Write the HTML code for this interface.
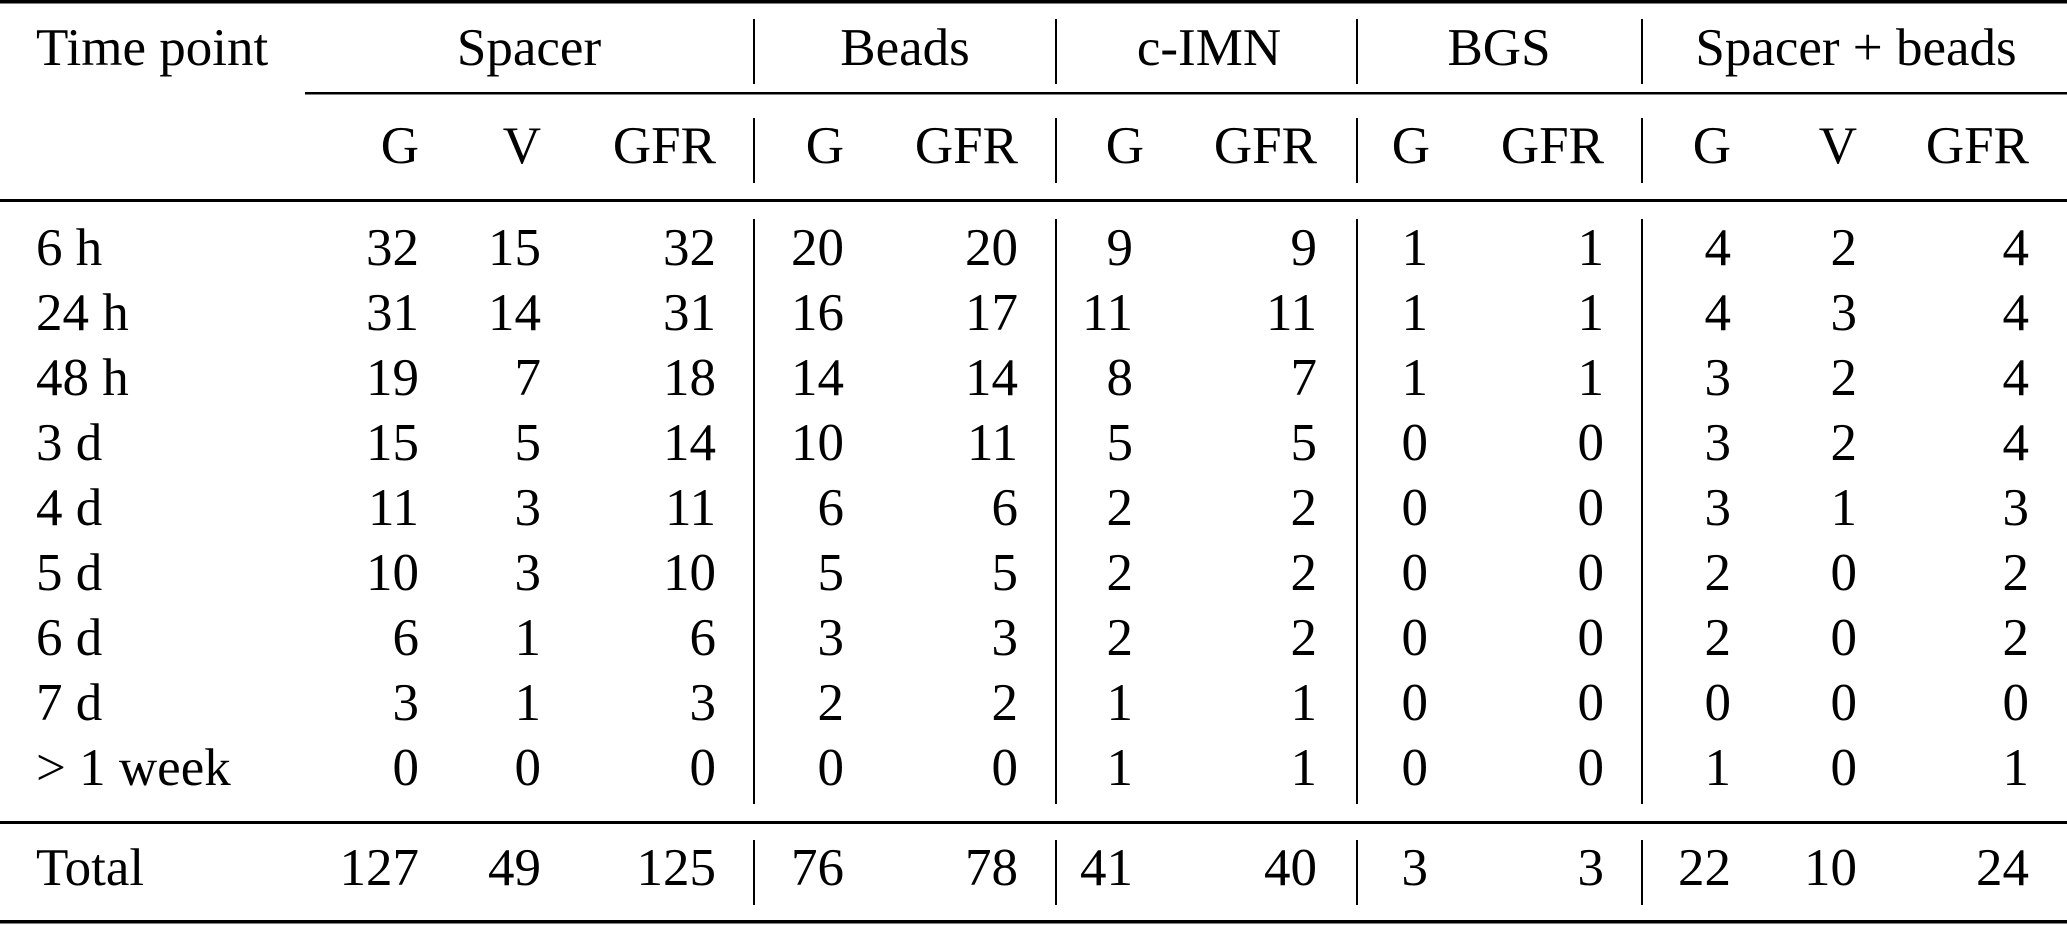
<!DOCTYPE html>
<html><head><meta charset="utf-8"><style>html,body{margin:0;padding:0;background:#fff}svg{display:block}</style></head><body>
<svg width="2067" height="925" xmlns="http://www.w3.org/2000/svg" font-family="Liberation Serif, serif" font-size="53" fill="#000">
<rect x="0" y="0" width="2067" height="3.5" fill="#000"/>
<rect x="305" y="92" width="1762" height="2.5" fill="#000"/>
<rect x="0" y="199" width="2067" height="3" fill="#000"/>
<rect x="0" y="821" width="2067" height="3" fill="#000"/>
<rect x="0" y="920" width="2067" height="3.5" fill="#000"/>
<g stroke="#000" stroke-width="2">
<line x1="754" y1="19" x2="754" y2="84"/><line x1="1056" y1="19" x2="1056" y2="84"/><line x1="1357" y1="19" x2="1357" y2="84"/><line x1="1642" y1="19" x2="1642" y2="84"/>
<line x1="754" y1="118" x2="754" y2="183"/><line x1="1056" y1="118" x2="1056" y2="183"/><line x1="1357" y1="118" x2="1357" y2="183"/><line x1="1642" y1="118" x2="1642" y2="183"/>
<line x1="754" y1="219" x2="754" y2="804"/><line x1="1056" y1="219" x2="1056" y2="804"/><line x1="1357" y1="219" x2="1357" y2="804"/><line x1="1642" y1="219" x2="1642" y2="804"/>
<line x1="754" y1="840" x2="754" y2="905"/><line x1="1056" y1="840" x2="1056" y2="905"/><line x1="1357" y1="840" x2="1357" y2="905"/><line x1="1642" y1="840" x2="1642" y2="905"/>
</g>
<text x="36" y="65">Time point</text>
<g text-anchor="middle"><text x="529" y="65">Spacer</text><text x="905" y="65">Beads</text><text x="1209" y="65">c-IMN</text><text x="1499" y="65">BGS</text><text x="1856" y="65">Spacer + beads</text></g>
<g text-anchor="end">
<text x="419" y="163">G</text><text x="541" y="163">V</text><text x="716" y="163">GFR</text>
<text x="844" y="163">G</text><text x="1018" y="163">GFR</text>
<text x="1144" y="163">G</text><text x="1317" y="163">GFR</text>
<text x="1430" y="163">G</text><text x="1604" y="163">GFR</text>
<text x="1731" y="163">G</text><text x="1857" y="163">V</text><text x="2029" y="163">GFR</text>
</g>
<g>
<text x="36" y="265">6 h</text><text x="36" y="330">24 h</text><text x="36" y="395">48 h</text><text x="36" y="460">3 d</text><text x="36" y="525">4 d</text><text x="36" y="590">5 d</text><text x="36" y="655">6 d</text><text x="36" y="720">7 d</text><text x="36" y="785">&gt; 1 week</text><text x="36" y="885">Total</text>
</g>
<g text-anchor="end">
<g transform="translate(419,0)"><text y="265">32</text><text y="330">31</text><text y="395">19</text><text y="460">15</text><text y="525">11</text><text y="590">10</text><text y="655">6</text><text y="720">3</text><text y="785">0</text><text y="885">127</text></g>
<g transform="translate(541,0)"><text y="265">15</text><text y="330">14</text><text y="395">7</text><text y="460">5</text><text y="525">3</text><text y="590">3</text><text y="655">1</text><text y="720">1</text><text y="785">0</text><text y="885">49</text></g>
<g transform="translate(716,0)"><text y="265">32</text><text y="330">31</text><text y="395">18</text><text y="460">14</text><text y="525">11</text><text y="590">10</text><text y="655">6</text><text y="720">3</text><text y="785">0</text><text y="885">125</text></g>
<g transform="translate(844,0)"><text y="265">20</text><text y="330">16</text><text y="395">14</text><text y="460">10</text><text y="525">6</text><text y="590">5</text><text y="655">3</text><text y="720">2</text><text y="785">0</text><text y="885">76</text></g>
<g transform="translate(1018,0)"><text y="265">20</text><text y="330">17</text><text y="395">14</text><text y="460">11</text><text y="525">6</text><text y="590">5</text><text y="655">3</text><text y="720">2</text><text y="785">0</text><text y="885">78</text></g>
<g transform="translate(1133,0)"><text y="265">9</text><text y="330">11</text><text y="395">8</text><text y="460">5</text><text y="525">2</text><text y="590">2</text><text y="655">2</text><text y="720">1</text><text y="785">1</text><text y="885">41</text></g>
<g transform="translate(1317,0)"><text y="265">9</text><text y="330">11</text><text y="395">7</text><text y="460">5</text><text y="525">2</text><text y="590">2</text><text y="655">2</text><text y="720">1</text><text y="785">1</text><text y="885">40</text></g>
<g transform="translate(1428,0)"><text y="265">1</text><text y="330">1</text><text y="395">1</text><text y="460">0</text><text y="525">0</text><text y="590">0</text><text y="655">0</text><text y="720">0</text><text y="785">0</text><text y="885">3</text></g>
<g transform="translate(1604,0)"><text y="265">1</text><text y="330">1</text><text y="395">1</text><text y="460">0</text><text y="525">0</text><text y="590">0</text><text y="655">0</text><text y="720">0</text><text y="785">0</text><text y="885">3</text></g>
<g transform="translate(1731,0)"><text y="265">4</text><text y="330">4</text><text y="395">3</text><text y="460">3</text><text y="525">3</text><text y="590">2</text><text y="655">2</text><text y="720">0</text><text y="785">1</text><text y="885">22</text></g>
<g transform="translate(1857,0)"><text y="265">2</text><text y="330">3</text><text y="395">2</text><text y="460">2</text><text y="525">1</text><text y="590">0</text><text y="655">0</text><text y="720">0</text><text y="785">0</text><text y="885">10</text></g>
<g transform="translate(2029,0)"><text y="265">4</text><text y="330">4</text><text y="395">4</text><text y="460">4</text><text y="525">3</text><text y="590">2</text><text y="655">2</text><text y="720">0</text><text y="785">1</text><text y="885">24</text></g>
</g>
</svg>
</body></html>
